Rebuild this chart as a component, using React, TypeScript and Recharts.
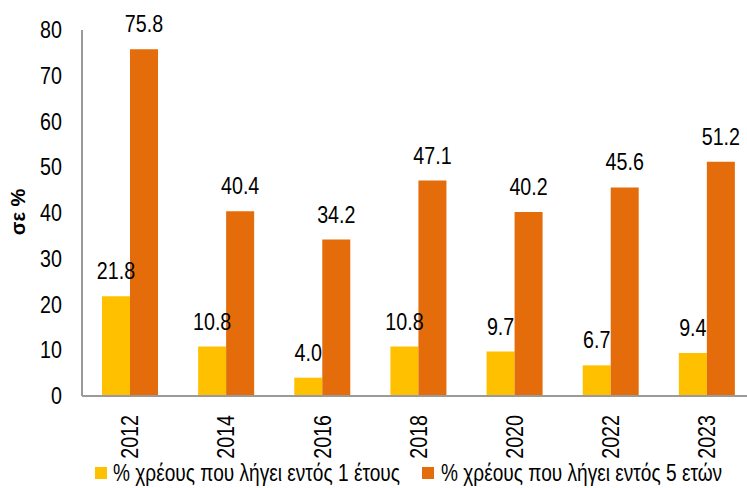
import React from "react";
import { BarChart, Bar, XAxis, YAxis, Legend, LabelList, Label } from "recharts";

const years = ["2012", "2014", "2016", "2018", "2020", "2022", "2023"];
const oneYear = [21.8, 10.8, 4.0, 10.8, 9.7, 6.7, 9.4];
const fiveYears = [75.8, 40.4, 34.2, 47.1, 40.2, 45.6, 51.2];
const yTicks = [0, 10, 20, 30, 40, 50, 60, 70, 80];
const seriesNames = ["% χρέους που λήγει εντός 1 έτους", "% χρέους που λήγει εντός 5 ετών"];

const data = years.map((y, i) => ({ year: y, a: oneYear[i], b: fiveYears[i] }));

const FONT = "'Liberation Sans', Arial, sans-serif";
const YELLOW = "#FFC000";
const ORANGE = "#E46C0A";
const NARROW = 0.82;

// Arial-Narrow look: draw the text at the origin and squeeze it horizontally
const NarrowText = ({ x, y, rotate = 0, anchor = "middle", baseline = "auto", children }: any) => (
  <text
    transform={`translate(${x} ${y}) rotate(${rotate}) scale(${NARROW} 1)`}
    textAnchor={anchor}
    dominantBaseline={baseline}
    fontSize={24}
    fontFamily={FONT}
    fill="#000"
  >
    {children}
  </text>
);

const YearTick = (props: any) => (
  <NarrowText x={props.x} y={props.y + 11} rotate={-90} anchor="end" baseline="central">
    {props.payload.value}
  </NarrowText>
);

const ValueTick = (props: any) => (
  <NarrowText x={props.x} y={props.y} anchor="end" baseline="central">
    {props.payload.value}
  </NarrowText>
);

const ValueLabel = (props: any) => {
  const { x, y, width, value } = props;
  return (
    <NarrowText x={Number(x) + Number(width) / 2} y={Number(y) - 17} anchor="middle">
      {Number(value).toFixed(1)}
    </NarrowText>
  );
};

const legendPos = [
  { box: 95, text: 113 },
  { box: 422, text: 441 },
];

const LegendBox = () => (
  <div style={{ position: "relative", height: 30, width: 747, fontFamily: FONT, fontSize: 23, whiteSpace: "nowrap" }}>
    {seriesNames.map((n, i) => (
      <React.Fragment key={n}>
        <span
          style={{ position: "absolute", left: legendPos[i].box, top: 9, width: 12, height: 12, background: i === 0 ? YELLOW : ORANGE }}
        />
        <span
          style={{
            position: "absolute",
            left: legendPos[i].text,
            top: 0,
            lineHeight: "30px",
            transform: `scaleX(${NARROW + 0.01})`,
            transformOrigin: "left center",
          }}
        >
          {n}
        </span>
      </React.Fragment>
    ))}
  </div>
);

export default function App() {
  return (
    <div style={{ position: "absolute", left: 0, top: 0, width: 747, height: 488, overflow: "hidden", background: "#fff" }}>
      <BarChart
        width={755}
        height={488}
        data={data}
        margin={{ top: 30, right: 0, left: 0, bottom: 0 }}
        barCategoryGap={20}
        barGap={0}
      >
        <XAxis
          dataKey="year"
          height={62}
          tickLine={false}
          axisLine={{ stroke: "#9a9a9a", strokeWidth: 2 }}
          tick={<YearTick />}
          interval={0}
        />
        <YAxis
          width={82}
          domain={[0, 80]}
          ticks={yTicks}
          tickLine={false}
          tickSize={18}
          tickMargin={2}
          axisLine={{ stroke: "#9a9a9a", strokeWidth: 2 }}
          tick={<ValueTick />}
        >
          <Label
            content={() => (
              <text
                x={18}
                y={212}
                transform="rotate(-90 18 212)"
                textAnchor="middle"
                dominantBaseline="central"
                fontSize={20}
                fontWeight="bold"
                fontFamily={FONT}
                fill="#000"
              >
                σε %
              </text>
            )}
          />
        </YAxis>
        <Legend verticalAlign="bottom" content={<LegendBox />} wrapperStyle={{ left: 0, width: 747, bottom: 0 }} />
        <Bar dataKey="a" name={seriesNames[0]} fill={YELLOW} barSize={28} isAnimationActive={false}>
          <LabelList dataKey="a" content={<ValueLabel />} />
        </Bar>
        <Bar dataKey="b" name={seriesNames[1]} fill={ORANGE} barSize={28} isAnimationActive={false}>
          <LabelList dataKey="b" content={<ValueLabel />} />
        </Bar>
      </BarChart>
    </div>
  );
}
